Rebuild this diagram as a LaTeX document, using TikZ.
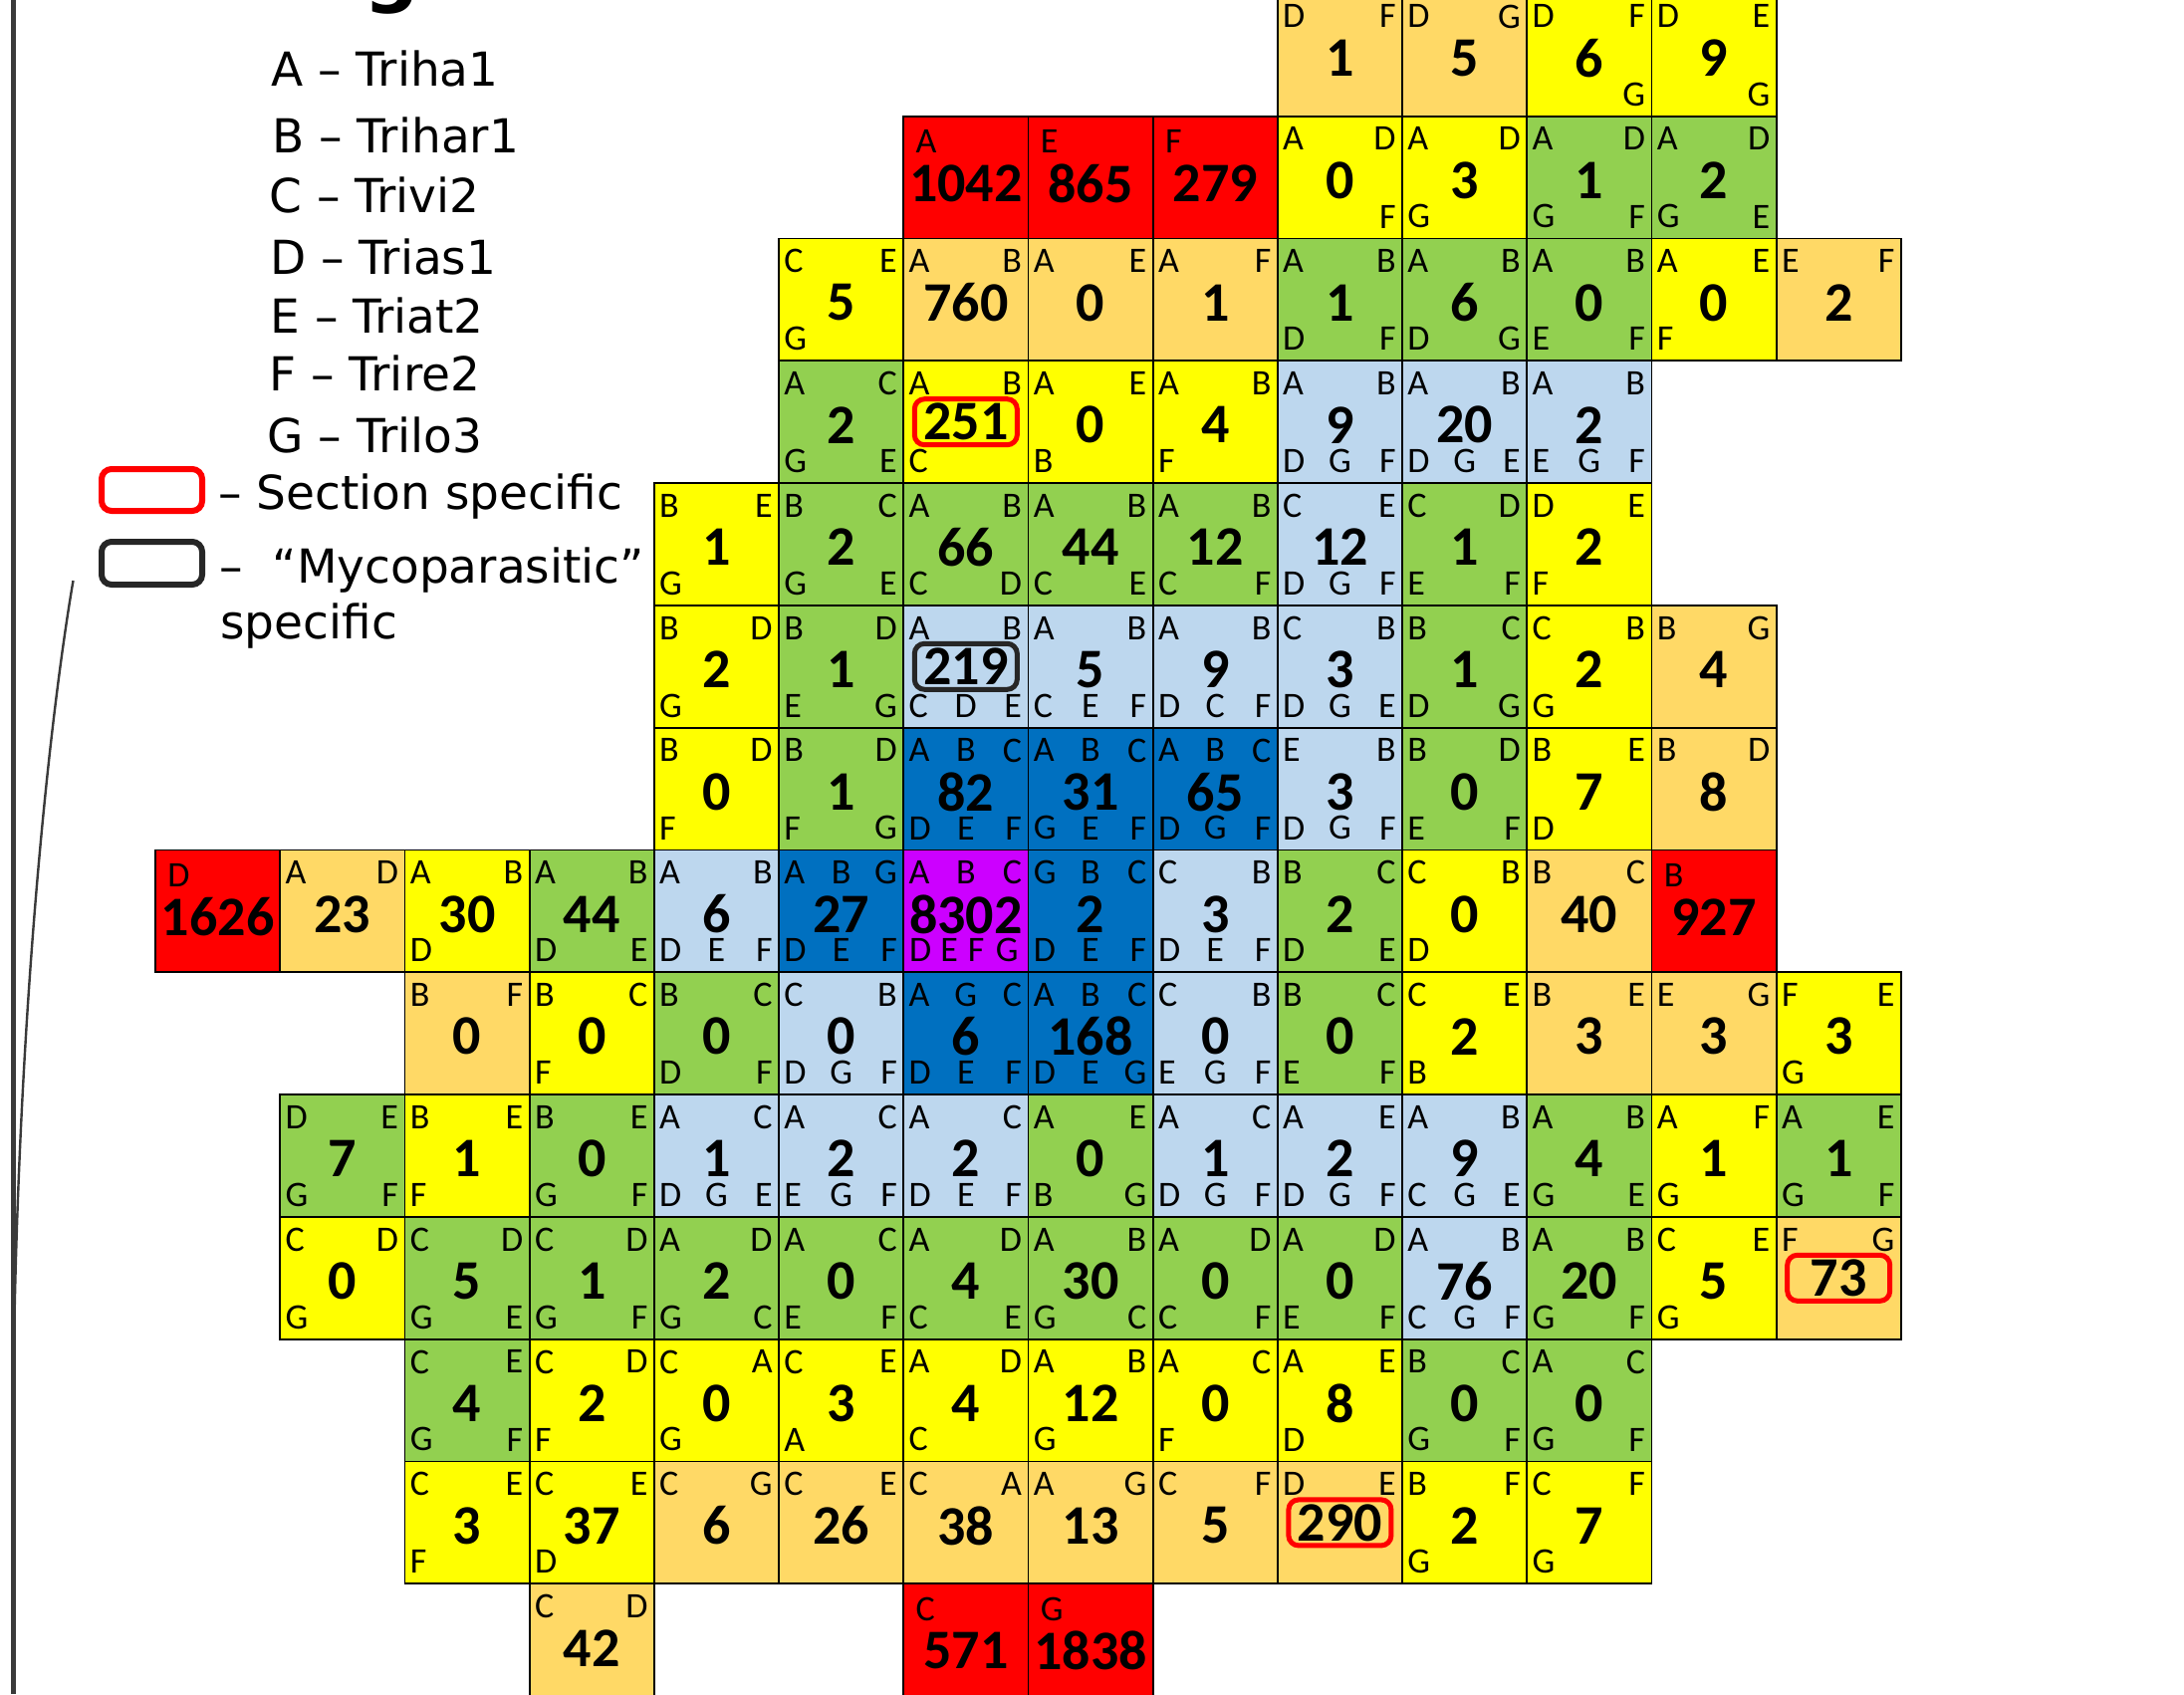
\documentclass[tikz,border=0pt]{standalone}
\usepackage{fontspec}
\setmainfont{DejaVu Sans}
\newfontfamily\cellfont{Carlito}
\definecolor{cY}{HTML}{FFFF00}
\definecolor{cO}{HTML}{FFD966}
\definecolor{cG}{HTML}{92D050}
\definecolor{cL}{HTML}{BDD7EE}
\definecolor{cB}{HTML}{0070C0}
\definecolor{cR}{HTML}{FF0000}
\definecolor{cP}{HTML}{CC00FF}
\definecolor{boxgray}{HTML}{262626}
\definecolor{linegray}{HTML}{3A3A3A}
\tikzset{
 cellsq/.style={draw=black, line width=0.9pt, minimum width=62.6pt, minimum height=61.4pt, inner sep=0pt, outer sep=0pt},
 numtxt/.style={inner sep=0pt, font=\cellfont\bfseries\fontsize{28}{30}\selectfont},
 lettxt/.style={inner sep=0pt, font=\cellfont\fontsize{18}{20}\selectfont},
 legtxt/.style={inner sep=0pt, anchor=base west, font=\fontsize{23.5}{27}\selectfont},
 secbox/.style={draw=cR, line width=2.5pt, rounded corners=5pt, minimum width=51.5pt, minimum height=23pt},
 mycobox/.style={draw=boxgray, line width=2.5pt, rounded corners=5pt, minimum width=51.5pt, minimum height=23pt},
 legsec/.style={draw=cR, line width=3pt, rounded corners=5pt, minimum width=50.5pt, minimum height=21pt, inner sep=0pt},
 legmyco/.style={draw=boxgray, line width=3pt, rounded corners=5pt, minimum width=50.5pt, minimum height=21.5pt, inner sep=0pt},
 frameline/.style={draw=linegray, line width=2.5pt},
 curveline/.style={draw=linegray, line width=1.2pt}
}
\newcommand\sq[4]{%
 \node[cellsq, fill=c#3] (n#1-#2) at ({156+125.2*#1+62.6},{-6.1+122.8*#2+61.4}) {};
 \node[numtxt] (v#1-#2) at ([yshift=-1.5pt]n#1-#2.center) {#4};}
\newcommand\bsq[5]{%
 \node[cellsq, fill=c#3] (n#1-#2) at ({156+125.2*#1+62.6},{-6.1+122.8*#2+61.4}) {};
 \node[numtxt,#5] (v#1-#2) at (n#1-#2.center) {#4};}
\newcommand\rsq[4]{%
 \node[cellsq, fill=cR] (n#1-#2) at ({156+125.2*#1+62.6},{-6.1+122.8*#2+61.4}) {};
 \node[lettxt, anchor=north west] (a#1-#2) at ([xshift=6pt,yshift=-6.5pt]n#1-#2.north west) {#3};
 \node[numtxt] (v#1-#2) at ([yshift=-3pt]n#1-#2.center) {#4};}
\newcommand\lab[8]{%
 \ifx&#3&\else\node[lettxt, anchor=north west] (a#1-#2) at ([xshift=2.5pt,yshift=-5.3pt]n#1-#2.north west) {#3};\fi
 \ifx&#4&\else\node[lettxt, anchor=north] (b#1-#2) at ([yshift=-5.3pt]n#1-#2.north) {#4};\fi
 \ifx&#5&\else\node[lettxt, anchor=north east] (c#1-#2) at ([xshift=-3pt,yshift=-5.3pt]n#1-#2.north east) {#5};\fi
 \ifx&#6&\else\node[lettxt, anchor=south west] (d#1-#2) at ([xshift=2.5pt,yshift=5pt]n#1-#2.south west) {#6};\fi
 \ifx&#7&\else\node[lettxt, anchor=south] (e#1-#2) at ([yshift=5pt]n#1-#2.south) {#7};\fi
 \ifx&#8&\else\node[lettxt, anchor=south east] (f#1-#2) at ([xshift=-3pt,yshift=5pt]n#1-#2.south east) {#8};\fi}
\begin{document}
\begin{tikzpicture}[x=0.5pt,y=-0.5pt]
\useasboundingbox (0,0) rectangle (2193,1701);
% frame lines and title remnant
\coordinate (ftop) at (13,0);
\coordinate (fbot) at (13,1701);
\draw[frameline] (ftop) -- (fbot);
\coordinate (cs) at (73.5,583);
\coordinate (ce) at (14,1350);
\draw[curveline] (cs) .. controls (50,720) and (20,1000) .. (ce);
\node[anchor=base west, inner sep=0pt, font=\bfseries\fontsize{39}{40}\selectfont] (title) at (365,-2.5) {g};
% legend
\node[legtxt] (lA) at (272,87) {A – Triha1};
\node[legtxt] (lB) at (273,154) {B – Trihar1};
\node[legtxt] (lC) at (270,214) {C – Trivi2};
\node[legtxt] (lD) at (271,276) {D – Trias1};
\node[legtxt] (lE) at (271,335) {E – Triat2};
\node[legtxt] (lF) at (270,393) {F – Trire2};
\node[legtxt] (lG) at (268,454) {G – Trilo3};
\node[legsec] (ksec) at (152.5,492) {};
\node[legtxt] (tsec) at (219,511) {– Section specific};
\node[legmyco] (kmyco) at (152.5,565.5) {};
\node[legtxt] (tmyco) at (220,585) {– \ “Mycoparasitic”};
\node[legtxt] (tmyco2) at (221,641) {specific};
% row 0
\sq{9}{0}{O}{1}\lab{9}{0}{D}{}{F}{}{}{}
\sq{10}{0}{O}{5}\lab{10}{0}{D}{}{G}{}{}{}
\sq{11}{0}{Y}{6}\lab{11}{0}{D}{}{F}{}{}{G}
\sq{12}{0}{Y}{9}\lab{12}{0}{D}{}{E}{}{}{G}
% row 1
\rsq{6}{1}{A}{1042}
\rsq{7}{1}{E}{865}
\rsq{8}{1}{F}{279}
\sq{9}{1}{Y}{0}\lab{9}{1}{A}{}{D}{}{}{F}
\sq{10}{1}{Y}{3}\lab{10}{1}{A}{}{D}{G}{}{}
\sq{11}{1}{G}{1}\lab{11}{1}{A}{}{D}{G}{}{F}
\sq{12}{1}{G}{2}\lab{12}{1}{A}{}{D}{G}{}{E}
% row 2
\sq{5}{2}{Y}{5}\lab{5}{2}{C}{}{E}{G}{}{}
\sq{6}{2}{O}{760}\lab{6}{2}{A}{}{B}{}{}{}
\sq{7}{2}{O}{0}\lab{7}{2}{A}{}{E}{}{}{}
\sq{8}{2}{O}{1}\lab{8}{2}{A}{}{F}{}{}{}
\sq{9}{2}{G}{1}\lab{9}{2}{A}{}{B}{D}{}{F}
\sq{10}{2}{G}{6}\lab{10}{2}{A}{}{B}{D}{}{G}
\sq{11}{2}{G}{0}\lab{11}{2}{A}{}{B}{E}{}{F}
\sq{12}{2}{Y}{0}\lab{12}{2}{A}{}{E}{F}{}{}
\sq{13}{2}{O}{2}\lab{13}{2}{E}{}{F}{}{}{}
% row 3
\sq{5}{3}{G}{2}\lab{5}{3}{A}{}{C}{G}{}{E}
\bsq{6}{3}{Y}{251}{secbox}\lab{6}{3}{A}{}{B}{C}{}{}
\sq{7}{3}{Y}{0}\lab{7}{3}{A}{}{E}{B}{}{}
\sq{8}{3}{Y}{4}\lab{8}{3}{A}{}{B}{F}{}{}
\sq{9}{3}{L}{9}\lab{9}{3}{A}{}{B}{D}{G}{F}
\sq{10}{3}{L}{20}\lab{10}{3}{A}{}{B}{D}{G}{E}
\sq{11}{3}{L}{2}\lab{11}{3}{A}{}{B}{E}{G}{F}
% row 4
\sq{4}{4}{Y}{1}\lab{4}{4}{B}{}{E}{G}{}{}
\sq{5}{4}{G}{2}\lab{5}{4}{B}{}{C}{G}{}{E}
\sq{6}{4}{G}{66}\lab{6}{4}{A}{}{B}{C}{}{D}
\sq{7}{4}{G}{44}\lab{7}{4}{A}{}{B}{C}{}{E}
\sq{8}{4}{G}{12}\lab{8}{4}{A}{}{B}{C}{}{F}
\sq{9}{4}{L}{12}\lab{9}{4}{C}{}{E}{D}{G}{F}
\sq{10}{4}{G}{1}\lab{10}{4}{C}{}{D}{E}{}{F}
\sq{11}{4}{Y}{2}\lab{11}{4}{D}{}{E}{F}{}{}
% row 5
\sq{4}{5}{Y}{2}\lab{4}{5}{B}{}{D}{G}{}{}
\sq{5}{5}{G}{1}\lab{5}{5}{B}{}{D}{E}{}{G}
\bsq{6}{5}{L}{219}{mycobox}\lab{6}{5}{A}{}{B}{C}{D}{E}
\sq{7}{5}{L}{5}\lab{7}{5}{A}{}{B}{C}{E}{F}
\sq{8}{5}{L}{9}\lab{8}{5}{A}{}{B}{D}{C}{F}
\sq{9}{5}{L}{3}\lab{9}{5}{C}{}{B}{D}{G}{E}
\sq{10}{5}{G}{1}\lab{10}{5}{B}{}{C}{D}{}{G}
\sq{11}{5}{Y}{2}\lab{11}{5}{C}{}{B}{G}{}{}
\sq{12}{5}{O}{4}\lab{12}{5}{B}{}{G}{}{}{}
% row 6
\sq{4}{6}{Y}{0}\lab{4}{6}{B}{}{D}{F}{}{}
\sq{5}{6}{G}{1}\lab{5}{6}{B}{}{D}{F}{}{G}
\sq{6}{6}{B}{82}\lab{6}{6}{A}{B}{C}{D}{E}{F}
\sq{7}{6}{B}{31}\lab{7}{6}{A}{B}{C}{G}{E}{F}
\sq{8}{6}{B}{65}\lab{8}{6}{A}{B}{C}{D}{G}{F}
\sq{9}{6}{L}{3}\lab{9}{6}{E}{}{B}{D}{G}{F}
\sq{10}{6}{G}{0}\lab{10}{6}{B}{}{D}{E}{}{F}
\sq{11}{6}{Y}{7}\lab{11}{6}{B}{}{E}{D}{}{}
\sq{12}{6}{O}{8}\lab{12}{6}{B}{}{D}{}{}{}
% row 7
\rsq{0}{7}{D}{1626}
\sq{1}{7}{O}{23}\lab{1}{7}{A}{}{D}{}{}{}
\sq{2}{7}{Y}{30}\lab{2}{7}{A}{}{B}{D}{}{}
\sq{3}{7}{G}{44}\lab{3}{7}{A}{}{B}{D}{}{E}
\sq{4}{7}{L}{6}\lab{4}{7}{A}{}{B}{D}{E}{F}
\sq{5}{7}{B}{27}\lab{5}{7}{A}{B}{G}{D}{E}{F}
\sq{6}{7}{P}{8302}\lab{6}{7}{A}{B}{C}{}{}{}
\node[lettxt, anchor=south] (p1) at ([xshift=8.5pt,yshift=5pt]n6-7.south west) {D};
\node[lettxt, anchor=south] (p2) at ([xshift=23pt,yshift=5pt]n6-7.south west) {E};
\node[lettxt, anchor=south] (p3) at ([xshift=36.5pt,yshift=5pt]n6-7.south west) {F};
\node[lettxt, anchor=south] (p4) at ([xshift=52pt,yshift=5pt]n6-7.south west) {G};
\sq{7}{7}{B}{2}\lab{7}{7}{G}{B}{C}{D}{E}{F}
\sq{8}{7}{L}{3}\lab{8}{7}{C}{}{B}{D}{E}{F}
\sq{9}{7}{G}{2}\lab{9}{7}{B}{}{C}{D}{}{E}
\sq{10}{7}{Y}{0}\lab{10}{7}{C}{}{B}{D}{}{}
\sq{11}{7}{O}{40}\lab{11}{7}{B}{}{C}{}{}{}
\rsq{12}{7}{B}{927}
% row 8
\sq{2}{8}{O}{0}\lab{2}{8}{B}{}{F}{}{}{}
\sq{3}{8}{Y}{0}\lab{3}{8}{B}{}{C}{F}{}{}
\sq{4}{8}{G}{0}\lab{4}{8}{B}{}{C}{D}{}{F}
\sq{5}{8}{L}{0}\lab{5}{8}{C}{}{B}{D}{G}{F}
\sq{6}{8}{B}{6}\lab{6}{8}{A}{G}{C}{D}{E}{F}
\sq{7}{8}{B}{168}\lab{7}{8}{A}{B}{C}{D}{E}{G}
\sq{8}{8}{L}{0}\lab{8}{8}{C}{}{B}{E}{G}{F}
\sq{9}{8}{G}{0}\lab{9}{8}{B}{}{C}{E}{}{F}
\sq{10}{8}{Y}{2}\lab{10}{8}{C}{}{E}{B}{}{}
\sq{11}{8}{O}{3}\lab{11}{8}{B}{}{E}{}{}{}
\sq{12}{8}{O}{3}\lab{12}{8}{E}{}{G}{}{}{}
\sq{13}{8}{Y}{3}\lab{13}{8}{F}{}{E}{G}{}{}
% row 9
\sq{1}{9}{G}{7}\lab{1}{9}{D}{}{E}{G}{}{F}
\sq{2}{9}{Y}{1}\lab{2}{9}{B}{}{E}{F}{}{}
\sq{3}{9}{G}{0}\lab{3}{9}{B}{}{E}{G}{}{F}
\sq{4}{9}{L}{1}\lab{4}{9}{A}{}{C}{D}{G}{E}
\sq{5}{9}{L}{2}\lab{5}{9}{A}{}{C}{E}{G}{F}
\sq{6}{9}{L}{2}\lab{6}{9}{A}{}{C}{D}{E}{F}
\sq{7}{9}{G}{0}\lab{7}{9}{A}{}{E}{B}{}{G}
\sq{8}{9}{L}{1}\lab{8}{9}{A}{}{C}{D}{G}{F}
\sq{9}{9}{L}{2}\lab{9}{9}{A}{}{E}{D}{G}{F}
\sq{10}{9}{L}{9}\lab{10}{9}{A}{}{B}{C}{G}{E}
\sq{11}{9}{G}{4}\lab{11}{9}{A}{}{B}{G}{}{E}
\sq{12}{9}{Y}{1}\lab{12}{9}{A}{}{F}{G}{}{}
\sq{13}{9}{G}{1}\lab{13}{9}{A}{}{E}{G}{}{F}
% row 10
\sq{1}{10}{Y}{0}\lab{1}{10}{C}{}{D}{G}{}{}
\sq{2}{10}{G}{5}\lab{2}{10}{C}{}{D}{G}{}{E}
\sq{3}{10}{G}{1}\lab{3}{10}{C}{}{D}{G}{}{F}
\sq{4}{10}{G}{2}\lab{4}{10}{A}{}{D}{G}{}{C}
\sq{5}{10}{G}{0}\lab{5}{10}{A}{}{C}{E}{}{F}
\sq{6}{10}{G}{4}\lab{6}{10}{A}{}{D}{C}{}{E}
\sq{7}{10}{G}{30}\lab{7}{10}{A}{}{B}{G}{}{C}
\sq{8}{10}{G}{0}\lab{8}{10}{A}{}{D}{C}{}{F}
\sq{9}{10}{G}{0}\lab{9}{10}{A}{}{D}{E}{}{F}
\sq{10}{10}{L}{76}\lab{10}{10}{A}{}{B}{C}{G}{F}
\sq{11}{10}{G}{20}\lab{11}{10}{A}{}{B}{G}{}{F}
\sq{12}{10}{Y}{5}\lab{12}{10}{C}{}{E}{G}{}{}
\bsq{13}{10}{O}{73}{secbox}\lab{13}{10}{F}{}{G}{}{}{}
% row 11
\sq{2}{11}{G}{4}\lab{2}{11}{C}{}{E}{G}{}{F}
\sq{3}{11}{Y}{2}\lab{3}{11}{C}{}{D}{F}{}{}
\sq{4}{11}{Y}{0}\lab{4}{11}{C}{}{A}{G}{}{}
\sq{5}{11}{Y}{3}\lab{5}{11}{C}{}{E}{A}{}{}
\sq{6}{11}{Y}{4}\lab{6}{11}{A}{}{D}{C}{}{}
\sq{7}{11}{Y}{12}\lab{7}{11}{A}{}{B}{G}{}{}
\sq{8}{11}{Y}{0}\lab{8}{11}{A}{}{C}{F}{}{}
\sq{9}{11}{Y}{8}\lab{9}{11}{A}{}{E}{D}{}{}
\sq{10}{11}{G}{0}\lab{10}{11}{B}{}{C}{G}{}{F}
\sq{11}{11}{G}{0}\lab{11}{11}{A}{}{C}{G}{}{F}
% row 12
\sq{2}{12}{Y}{3}\lab{2}{12}{C}{}{E}{F}{}{}
\sq{3}{12}{Y}{37}\lab{3}{12}{C}{}{E}{D}{}{}
\sq{4}{12}{O}{6}\lab{4}{12}{C}{}{G}{}{}{}
\sq{5}{12}{O}{26}\lab{5}{12}{C}{}{E}{}{}{}
\sq{6}{12}{O}{38}\lab{6}{12}{C}{}{A}{}{}{}
\sq{7}{12}{O}{13}\lab{7}{12}{A}{}{G}{}{}{}
\sq{8}{12}{O}{5}\lab{8}{12}{C}{}{F}{}{}{}
\bsq{9}{12}{O}{290}{secbox}\lab{9}{12}{D}{}{E}{}{}{}
\sq{10}{12}{Y}{2}\lab{10}{12}{B}{}{F}{G}{}{}
\sq{11}{12}{Y}{7}\lab{11}{12}{C}{}{F}{G}{}{}
% row 13
\sq{3}{13}{O}{42}\lab{3}{13}{C}{}{D}{}{}{}
\rsq{6}{13}{C}{571}
\rsq{7}{13}{G}{1838}
\end{tikzpicture}
\end{document}
